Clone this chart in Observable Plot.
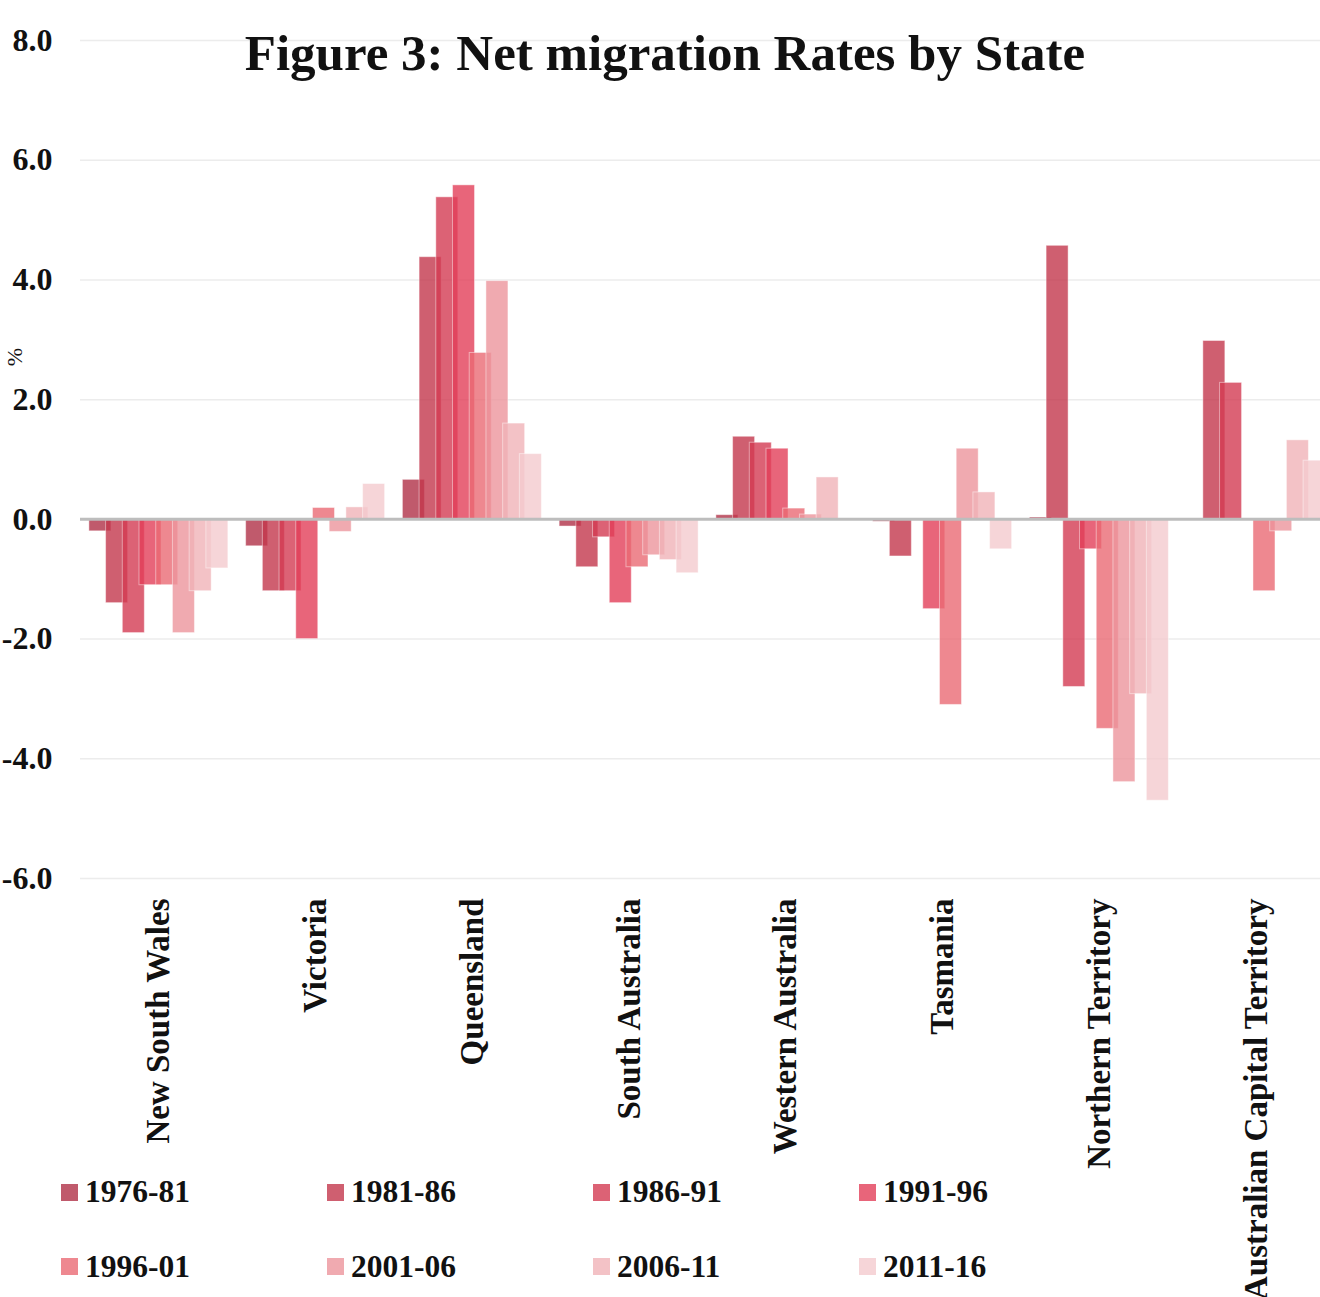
<!DOCTYPE html>
<html>
<head>
<meta charset="utf-8">
<script src="https://cdn.jsdelivr.net/npm/d3@7"></script>
<script src="https://cdn.jsdelivr.net/npm/@observablehq/plot@0.6"></script>
<style>
  html, body { margin: 0; padding: 0; background: #fff; }
  body { position: relative; width: 1320px; height: 1297px; overflow: hidden; font-family: 'Liberation Serif', 'Times New Roman', serif; color: #111; }
  #chart svg { max-width: none !important; height: 1297px !important; }
  #chart svg text { font-weight: bold; }
  #title { position: absolute; left: 0; top: 28px; width: 1320px; padding-left: 10px; box-sizing: border-box; text-align: center; font-size: 51px; line-height: 51px; font-weight: bold; }
  #ylab { position: absolute; left: 15px; top: 357px; transform: translate(-50%, -50%) rotate(-90deg); font-size: 22px; line-height: 22px; }
  .lg { position: absolute; display: flex; align-items: center; height: 32px; font-size: 31.5px; line-height: 32px; font-weight: bold; white-space: nowrap; }
  .lg .sw { width: 17px; height: 17px; margin-right: 7px; }
</style>
</head>
<body>
<div id="chart"></div>
<div id="title">Figure 3: Net migration Rates by State</div>
<div id="ylab">%</div>
<div id="legend"></div>
<script>
// ---- data ----
const states = ["New South Wales", "Victoria", "Queensland", "South Australia", "Western Australia", "Tasmania", "Northern Territory", "Australian Capital Territory"];
const periods = ["1976-81", "1981-86", "1986-91", "1991-96", "1996-01", "2001-06", "2006-11", "2011-16"];
const p1976_81 = [-0.2, -0.45, 0.66, -0.12, 0.07, -0.04, 0.03, null];
const p1981_86 = [-1.4, -1.2, 4.38, -0.8, 1.38, -0.62, 4.57, 2.98];
const p1986_91 = [-1.9, -1.2, 5.38, -0.3, 1.28, null, -2.8, 2.28];
const p1991_96 = [-1.1, -2.0, 5.58, -1.4, 1.18, -1.5, -0.5, null];
const p1996_01 = [-1.1, 0.19, 2.78, -0.8, 0.18, -3.1, -3.5, -1.2];
const p2001_06 = [-1.9, -0.21, 3.98, -0.6, 0.08, 1.18, -4.39, -0.2];
const p2006_11 = [-1.2, 0.2, 1.6, -0.68, 0.7, 0.45, -2.92, 1.32];
const p2011_16 = [-0.82, 0.59, 1.09, -0.9, null, -0.5, -4.7, 0.98];
const yTicks = [-6, -4, -2, 0, 2, 4, 6, 8];

// ---- style ----
const colors = ["#B03147", "#C3374C", "#D33B52", "#E23E59", "#EA6A74", "#EC959C", "#F0B3B8", "#F4CACE"];
const barStep = 0.1066;   // spacing between bars of a group, in state units
const barWidth = 0.1404;  // bars are wider than their spacing, so they overlap

const series = [p1976_81, p1981_86, p1986_91, p1991_96, p1996_01, p2001_06, p2006_11, p2011_16];
const table = [];
series.forEach((vals, pi) => vals.forEach((v, si) => {
  if (v != null) table.push({state: states[si], si, period: periods[pi], pi, value: v});
}));

const chart = Plot.plot({
  width: 1334,
  height: 1297,
  marginLeft: 80,
  marginRight: 0,
  marginTop: 40,
  marginBottom: 419,
  style: {fontFamily: "'Liberation Serif', 'Times New Roman', serif", color: "#111", background: "transparent", maxWidth: "none"},
  x: {type: "linear", domain: [-0.5, 7.5]},
  y: {domain: [-6, 8]},
  color: {domain: periods, range: colors},
  marks: [
    Plot.gridY(yTicks, {stroke: "#ececec", strokeOpacity: 1, strokeWidth: 1.5}),
    Plot.rect(table, {
      x1: d => d.si + (d.pi - 3.5) * barStep - barWidth / 2,
      x2: d => d.si + (d.pi - 3.5) * barStep + barWidth / 2,
      y1: 0,
      y2: "value",
      fill: "period",
      fillOpacity: 0.8,
      stroke: "white",
      strokeOpacity: 0.45,
      strokeWidth: 1
    }),
    Plot.ruleY([0], {stroke: "#bdbdbd", strokeWidth: 3}),
    Plot.axisY(yTicks, {tickSize: 0, tickPadding: 28, tickFormat: d => d.toFixed(1), fontSize: 32, fontWeight: "bold", fill: "#111", label: null}),
    Plot.axisX(d3.range(states.length), {tickFormat: i => states[i], tickRotate: -90, tickSize: 0, tickPadding: 20, fontSize: 33, fontWeight: "bold", fill: "#111", label: null})
  ]
});
document.getElementById("chart").append(chart);

// ---- legend ----
const legend = document.getElementById("legend");
periods.forEach((p, i) => {
  const col = i % 4, row = Math.floor(i / 4);
  const item = document.createElement("div");
  item.className = "lg";
  item.style.left = (61 + col * 266) + "px";
  item.style.top = (1176 + row * 74.5) + "px";
  const sw = document.createElement("span");
  sw.className = "sw";
  sw.style.background = colors[i];
  sw.style.opacity = 0.8;
  item.append(sw, document.createTextNode(p));
  legend.append(item);
});
</script>
</body>
</html>
